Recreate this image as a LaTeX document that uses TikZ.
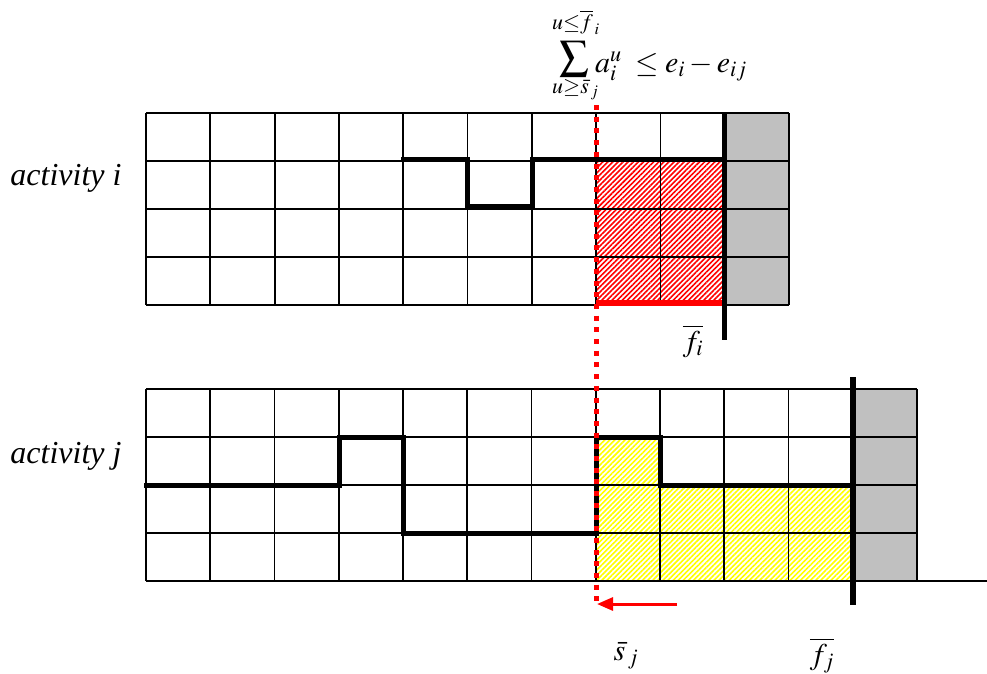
\documentclass[tikz,border=0pt]{standalone}
\usepackage{mathptmx}
\usepackage[no-math]{fontspec}
\setmainfont{Liberation Serif}
\usetikzlibrary{patterns.meta,arrows.meta}
\tikzset{
  gridline/.style={line width=1.8pt, black},
  profile/.style={line width=5pt, black, line cap=rect},
  greycell/.style={fill={rgb,255:red,192;green,192;blue,192}},
  redhatch/.style={pattern={Lines[angle=45,distance=3.6pt,line width=1.6pt]}, pattern color=red},
  yellowhatch/.style={pattern={Lines[angle=45,distance=3.6pt,line width=1.6pt]}, pattern color=yellow},
  lbl/.style={inner sep=0pt, font=\fontsize{30}{36}\selectfont},
  biglbl/.style={inner sep=0pt, font=\fontsize{32}{38}\selectfont},
  limlbl/.style={inner sep=0pt, font=\fontsize{22}{26}\selectfont},
}
\begin{document}
\begin{tikzpicture}[x=1pt,y=-1pt]
\useasboundingbox (0,0) rectangle (987,673);
\fill[white] (0,0) rectangle (987,673);
% grey cells
\fill[greycell] (724.7,113) rectangle (789,305);
\fill[greycell] (853,389) rectangle (917,581);
% hatched regions
\fill[redhatch] (596,161) rectangle (724.7,305);
\fill[yellowhatch] (596,437) rectangle (660,581);
\fill[yellowhatch] (660,485) rectangle (853,581);
% top grid
\foreach \k in {0,...,10} \draw[gridline] ({146+\k*64.3},113) -- ({146+\k*64.3},305);
\foreach \r in {0,...,4} \draw[gridline] (146,{113+\r*48}) -- (789,{113+\r*48});
% bottom grid
\foreach \k in {0,...,12} \draw[gridline] ({146+\k*64.25},389) -- ({146+\k*64.25},581);
\foreach \r in {0,...,3} \draw[gridline] (146,{389+\r*48}) -- (917,{389+\r*48});
\draw[gridline] (146,581) -- (987,581);
% profiles
\draw[profile] (403,159) -- (467.5,159) -- (467.5,206.5) -- (532,206.5) -- (532,159) -- (724,159);
\draw[profile] (146,485) -- (339,485) -- (339,437) -- (403,437) -- (403,533) -- (596,533) -- (596,437) -- (660,437) -- (660,485) -- (853,485);
% red base line and thick verticals
\draw[red, line width=6pt] (596,303) -- (724,303);
\draw[black, line width=5pt] (724.5,113) -- (724.5,340);
\draw[black, line width=6pt] (853,377) -- (853,605);
% dotted line and arrow
\coordinate (dtop) at (596,105);
\coordinate (dbot) at (596,603);
\coordinate (astart) at (677,604);
\coordinate (aend) at (597,604);
\draw[red, line width=5pt, dash pattern=on 5pt off 6.7pt] (dtop) -- (dbot);
\draw[red, line width=3pt, -{Triangle[length=16pt,width=13pt]}] (astart) -- (aend);
% labels
\node[biglbl, anchor=base] (acti) at (66,185) {\itshape activity i};
\node[biglbl, anchor=base] (actj) at (66,463) {\itshape activity j};
\node[lbl, anchor=base] (fi) at (693,351) {$\overline{f_i}$};
\node[lbl, anchor=base] (sj) at (626,660) {$\bar{s}_{\,j}$};
\node[lbl, anchor=base] (fj) at (822,664) {$\overline{f_j}$};
% formula
\node[inner sep=0pt, font=\fontsize{29}{34}\selectfont] (sigma) at (574,59) {$\displaystyle\sum$};
\node[limlbl, anchor=base west] (uplim) at (552,29) {$u{\le}\overline{f}_{\,i}$};
\node[limlbl, anchor=base west] (lowlim) at (552,93) {$u{\ge}\bar{s}_{\,j}$};
\node[lbl, anchor=base west] (formula) at (595,72) {$a_i^u \;\le e_i - e_{ij}$};
\end{tikzpicture}
\end{document}
